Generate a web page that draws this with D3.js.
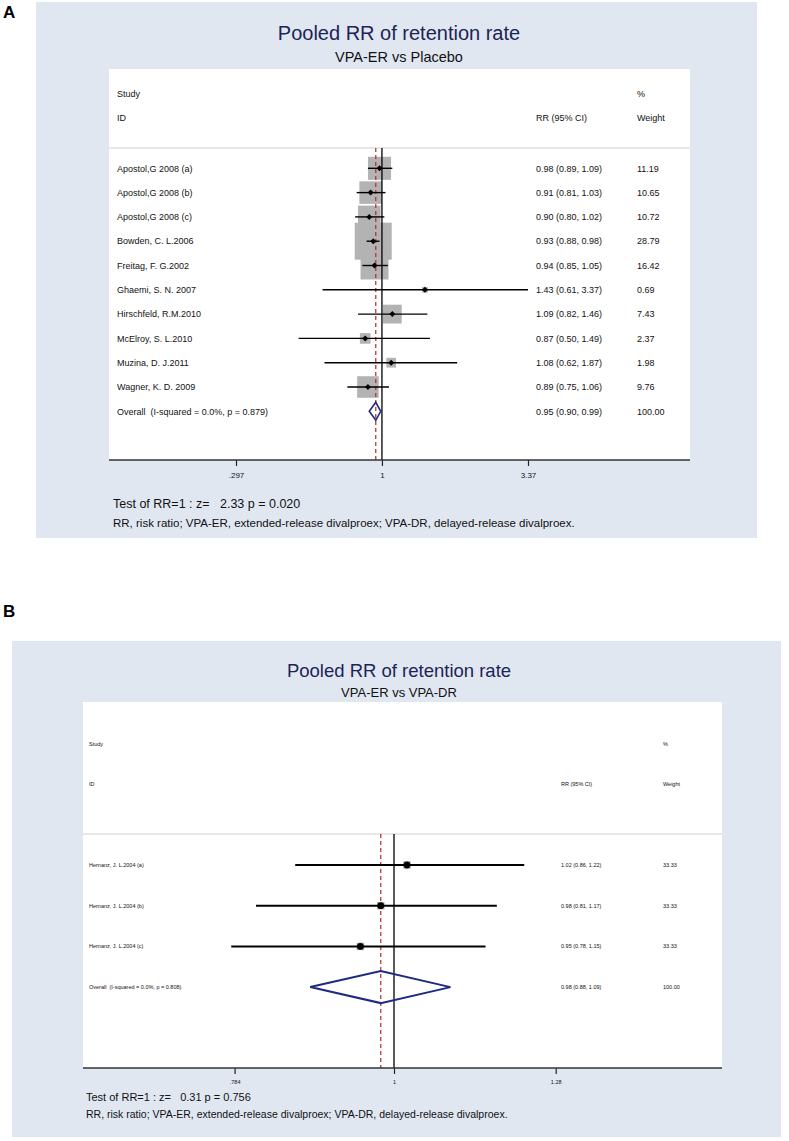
<!DOCTYPE html>
<html>
<head>
<meta charset="utf-8">
<script src="https://cdn.jsdelivr.net/npm/d3@7"></script>
<style>
  html, body { margin: 0; padding: 0; background: #ffffff; }
  svg { display: block; }
  text { font-family: "Liberation Sans", Arial, Helvetica, sans-serif; white-space: pre; }
</style>
</head>
<body>
<svg id="chart" width="789" height="1141"></svg>
<script>
// ---------------- DATA: Panel A (VPA-ER vs Placebo) ----------------
const studiesA = ["Apostol,G 2008 (a)", "Apostol,G 2008 (b)", "Apostol,G 2008 (c)", "Bowden, C. L.2006",
  "Freitag, F. G.2002", "Ghaemi, S. N. 2007", "Hirschfeld, R.M.2010", "McElroy, S. L.2010",
  "Muzina, D. J.2011", "Wagner, K. D. 2009"];
const rrA     = [0.98, 0.91, 0.90, 0.93, 0.94, 1.43, 1.09, 0.87, 1.08, 0.89];
const lowerA  = [0.89, 0.81, 0.80, 0.88, 0.85, 0.61, 0.82, 0.50, 0.62, 0.75];
const upperA  = [1.09, 1.03, 1.02, 0.98, 1.05, 3.37, 1.46, 1.49, 1.87, 1.06];
const weightA = [11.19, 10.65, 10.72, 28.79, 16.42, 0.69, 7.43, 2.37, 1.98, 9.76];
const overallA = [0.95, 0.90, 0.99];          // RR, lower, upper
const overallWeightA = 100.00;
const overallLabelA = "Overall  (I-squared = 0.0%, p = 0.879)";
const ticksA = [0.297, 1, 3.37];
const tickLabelsA = [".297", "1", "3.37"];
const titleA = "Pooled RR of retention rate";
const subtitleA = "VPA-ER vs Placebo";
const testA = "Test of RR=1 : z=   2.33 p = 0.020";

// ---------------- DATA: Panel B (VPA-ER vs VPA-DR) ----------------
const studiesB = ["Hernanz, J. L.2004 (a)", "Hernanz, J. L.2004 (b)", "Hernanz, J. L.2004 (c)"];
const rrB     = [1.02, 0.98, 0.95];
const lowerB  = [0.86, 0.81, 0.78];
const upperB  = [1.22, 1.17, 1.15];
const weightB = [33.33, 33.33, 33.33];
const overallB = [0.98, 0.88, 1.09];
const overallWeightB = 100.00;
const overallLabelB = "Overall  (I-squared = 0.0%, p = 0.808)";
const ticksB = [0.784, 1, 1.28];
const tickLabelsB = [".784", "1", "1.28"];
const titleB = "Pooled RR of retention rate";
const subtitleB = "VPA-ER vs VPA-DR";
const testB = "Test of RR=1 : z=   0.31 p = 0.756";

const footnote = "RR, risk ratio; VPA-ER, extended-release divalproex; VPA-DR, delayed-release divalproex.";
const headers = { study: "Study", id: "ID", rr: "RR (95% CI)", pct: "%", weight: "Weight" };

// ---------------- LAYOUT ----------------
const layoutA = {
  letter: "A", letterX: 3, letterY: 18, letterSize: 17,
  bg: [36, 2, 757, 538],
  titleY: 40, titleSize: 20, subY: 62, subSize: 14.5, centerX: 399,
  plot: [109, 69, 690, 460], sepY: 148, headY1: 97, headY2: 121,
  rowY0: 168.3, rowStep: 24.3, labelX: 117, rrX: 536, wX: 637, fontSize: 9,
  xRange: [236, 528], tickSize: 6, tickFont: 8, tickLabelY: 478,
  testX: 113, testY: 508, testSize: 12.5, footY: 527, footSize: 11.5,
  boxK: 6.9, diamondH: 9, lineW: 1.4, marker: "diamond", markerR: 3, diamondW: 1.6
};
const layoutB = {
  letter: "B", letterX: 3, letterY: 617, letterSize: 17,
  bg: [12, 641, 781, 1137],
  titleY: 677, titleSize: 18.5, subY: 697, subSize: 13, centerX: 399,
  plot: [83, 702, 722, 1068], sepY: 834, headY1: 746, headY2: 786,
  rowY0: 865, rowStep: 40.7, labelX: 89, rrX: 561, wX: 663, fontSize: 5.5,
  xRange: [234.6, 555.7], tickSize: 6, tickFont: 5.5, tickLabelY: 1084,
  testX: 86, testY: 1101, testSize: 11, footY: 1118, footSize: 10.5,
  boxK: 1.3, diamondH: 16, lineW: 2, marker: "circle", markerR: 3.4, diamondW: 2
};

const svg = d3.select("#chart");
const f2 = d3.format(".2f");

function drawPanel(L, d) {
  const g = svg.append("g");
  // background
  g.append("rect").attr("x", L.bg[0]).attr("y", L.bg[1])
    .attr("width", L.bg[2] - L.bg[0]).attr("height", L.bg[3] - L.bg[1])
    .attr("fill", "#e1e7f1");
  // panel letter
  svg.append("text").attr("x", L.letterX).attr("y", L.letterY)
    .attr("font-size", L.letterSize).attr("font-weight", "bold").attr("fill", "#000").text(L.letter);
  // titles
  g.append("text").attr("x", L.centerX).attr("y", L.titleY).attr("text-anchor", "middle")
    .attr("font-size", L.titleSize).attr("fill", "#1b2555").text(d.title);
  g.append("text").attr("x", L.centerX).attr("y", L.subY).attr("text-anchor", "middle")
    .attr("font-size", L.subSize).attr("fill", "#111").text(d.subtitle);
  // white plot region
  const [px0, py0, px1, py1] = L.plot;
  g.append("rect").attr("x", px0).attr("y", py0).attr("width", px1 - px0).attr("height", py1 - py0)
    .attr("fill", "#ffffff");
  // headers
  const fs = L.fontSize;
  const hdr = [
    [L.labelX, L.headY1, headers.study], [L.wX, L.headY1, headers.pct],
    [L.labelX, L.headY2, headers.id], [L.rrX, L.headY2, headers.rr], [L.wX, L.headY2, headers.weight]
  ];
  g.selectAll(".hdr").data(hdr).join("text").attr("class", "hdr")
    .attr("x", h => h[0]).attr("y", h => h[1]).attr("font-size", fs).attr("fill", "#111").text(h => h[2]);
  // separator
  g.append("line").attr("x1", px0).attr("x2", px1).attr("y1", L.sepY).attr("y2", L.sepY)
    .attr("stroke", "#cfcfcf").attr("stroke-width", 1.2);

  // scales
  const x = d3.scaleLog().domain([d.ticks[0], d.ticks[d.ticks.length - 1]]).range(L.xRange);
  const n = d.studies.length;
  const y = d3.scaleLinear().domain([0, 1]).range([L.rowY0, L.rowY0 + L.rowStep]);

  // boxes
  const rows = d.studies.map((s, i) => ({ s, rr: d.rr[i], lo: d.lo[i], hi: d.hi[i], w: d.w[i], i }));
  g.selectAll(".box").data(rows).join("rect").attr("class", "box")
    .attr("x", r => x(r.rr) - L.boxK * Math.sqrt(r.w) / 2)
    .attr("y", r => y(r.i) - L.boxK * Math.sqrt(r.w) / 2)
    .attr("width", r => L.boxK * Math.sqrt(r.w)).attr("height", r => L.boxK * Math.sqrt(r.w))
    .attr("fill", "#b3b3b3");

  // reference lines
  g.append("line").attr("x1", x(1)).attr("x2", x(1)).attr("y1", L.sepY).attr("y2", py1)
    .attr("stroke", "#000").attr("stroke-width", 1.3);
  g.append("line").attr("x1", x(d.overall[0])).attr("x2", x(d.overall[0])).attr("y1", L.sepY).attr("y2", py1)
    .attr("stroke", "#b5282a").attr("stroke-width", 1.2).attr("stroke-dasharray", "4,3");

  // CI lines
  g.selectAll(".ci").data(rows).join("line").attr("class", "ci")
    .attr("x1", r => x(r.lo)).attr("x2", r => x(r.hi)).attr("y1", r => y(r.i)).attr("y2", r => y(r.i))
    .attr("stroke", "#000").attr("stroke-width", L.lineW);

  // markers
  if (L.marker === "diamond") {
    const m = L.markerR;
    g.selectAll(".mk").data(rows).join("path").attr("class", "mk")
      .attr("d", r => `M${x(r.rr)},${y(r.i) - m}L${x(r.rr) + m},${y(r.i)}L${x(r.rr)},${y(r.i) + m}L${x(r.rr) - m},${y(r.i)}Z`)
      .attr("fill", "#000");
  } else {
    g.selectAll(".mk").data(rows).join("circle").attr("class", "mk")
      .attr("cx", r => x(r.rr)).attr("cy", r => y(r.i)).attr("r", L.markerR).attr("fill", "#000");
  }

  // overall diamond
  const oy = y(n);
  const [orr, olo, ohi] = d.overall;
  g.append("path")
    .attr("d", `M${x(olo)},${oy}L${x(orr)},${oy - L.diamondH}L${x(ohi)},${oy}L${x(orr)},${oy + L.diamondH}Z`)
    .attr("fill", "none").attr("stroke", "#1f2a80").attr("stroke-width", L.diamondW);

  // row texts
  const textRows = rows.map(r => ({ label: r.s, rr: r.rr, lo: r.lo, hi: r.hi, w: r.w, i: r.i }))
    .concat([{ label: d.overallLabel, rr: orr, lo: olo, hi: ohi, w: d.overallWeight, i: n }]);
  g.selectAll(".lab").data(textRows).join("text").attr("class", "lab")
    .attr("x", L.labelX).attr("y", r => y(r.i) + fs * 0.36).attr("font-size", fs).attr("fill", "#111")
    .text(r => r.label);
  g.selectAll(".rrt").data(textRows).join("text").attr("class", "rrt")
    .attr("x", L.rrX).attr("y", r => y(r.i) + fs * 0.36).attr("font-size", fs).attr("fill", "#111")
    .text(r => `${f2(r.rr)} (${f2(r.lo)}, ${f2(r.hi)})`);
  g.selectAll(".wt").data(textRows).join("text").attr("class", "wt")
    .attr("x", L.wX).attr("y", r => y(r.i) + fs * 0.36).attr("font-size", fs).attr("fill", "#111")
    .text(r => f2(r.w));

  // axis
  const axis = d3.axisBottom(x).tickValues(d.ticks).tickFormat((t, i) => d.tickLabels[i])
    .tickSize(L.tickSize).tickSizeOuter(0);
  const ag = g.append("g").attr("transform", `translate(0,${py1})`).call(axis);
  ag.select(".domain").remove();
  ag.selectAll(".tick line").attr("stroke", "#222").attr("stroke-width", 1.2);
  ag.selectAll(".tick text").attr("font-size", L.tickFont).attr("fill", "#111")
    .attr("dy", null).attr("y", L.tickLabelY - py1)
    .style("font-family", '"Liberation Sans", Arial, sans-serif');
  g.append("line").attr("x1", px0).attr("x2", px1).attr("y1", py1).attr("y2", py1)
    .attr("stroke", "#333").attr("stroke-width", 1.3);

  // footer
  g.append("text").attr("x", L.testX).attr("y", L.testY).attr("font-size", L.testSize).attr("fill", "#111").text(d.test);
  g.append("text").attr("x", L.testX).attr("y", L.footY).attr("font-size", L.footSize).attr("fill", "#111").text(footnote);
}

drawPanel(layoutA, {
  title: titleA, subtitle: subtitleA, studies: studiesA, rr: rrA, lo: lowerA, hi: upperA, w: weightA,
  overall: overallA, overallWeight: overallWeightA, overallLabel: overallLabelA,
  ticks: ticksA, tickLabels: tickLabelsA, test: testA
});
drawPanel(layoutB, {
  title: titleB, subtitle: subtitleB, studies: studiesB, rr: rrB, lo: lowerB, hi: upperB, w: weightB,
  overall: overallB, overallWeight: overallWeightB, overallLabel: overallLabelB,
  ticks: ticksB, tickLabels: tickLabelsB, test: testB
});
</script>
</body>
</html>
